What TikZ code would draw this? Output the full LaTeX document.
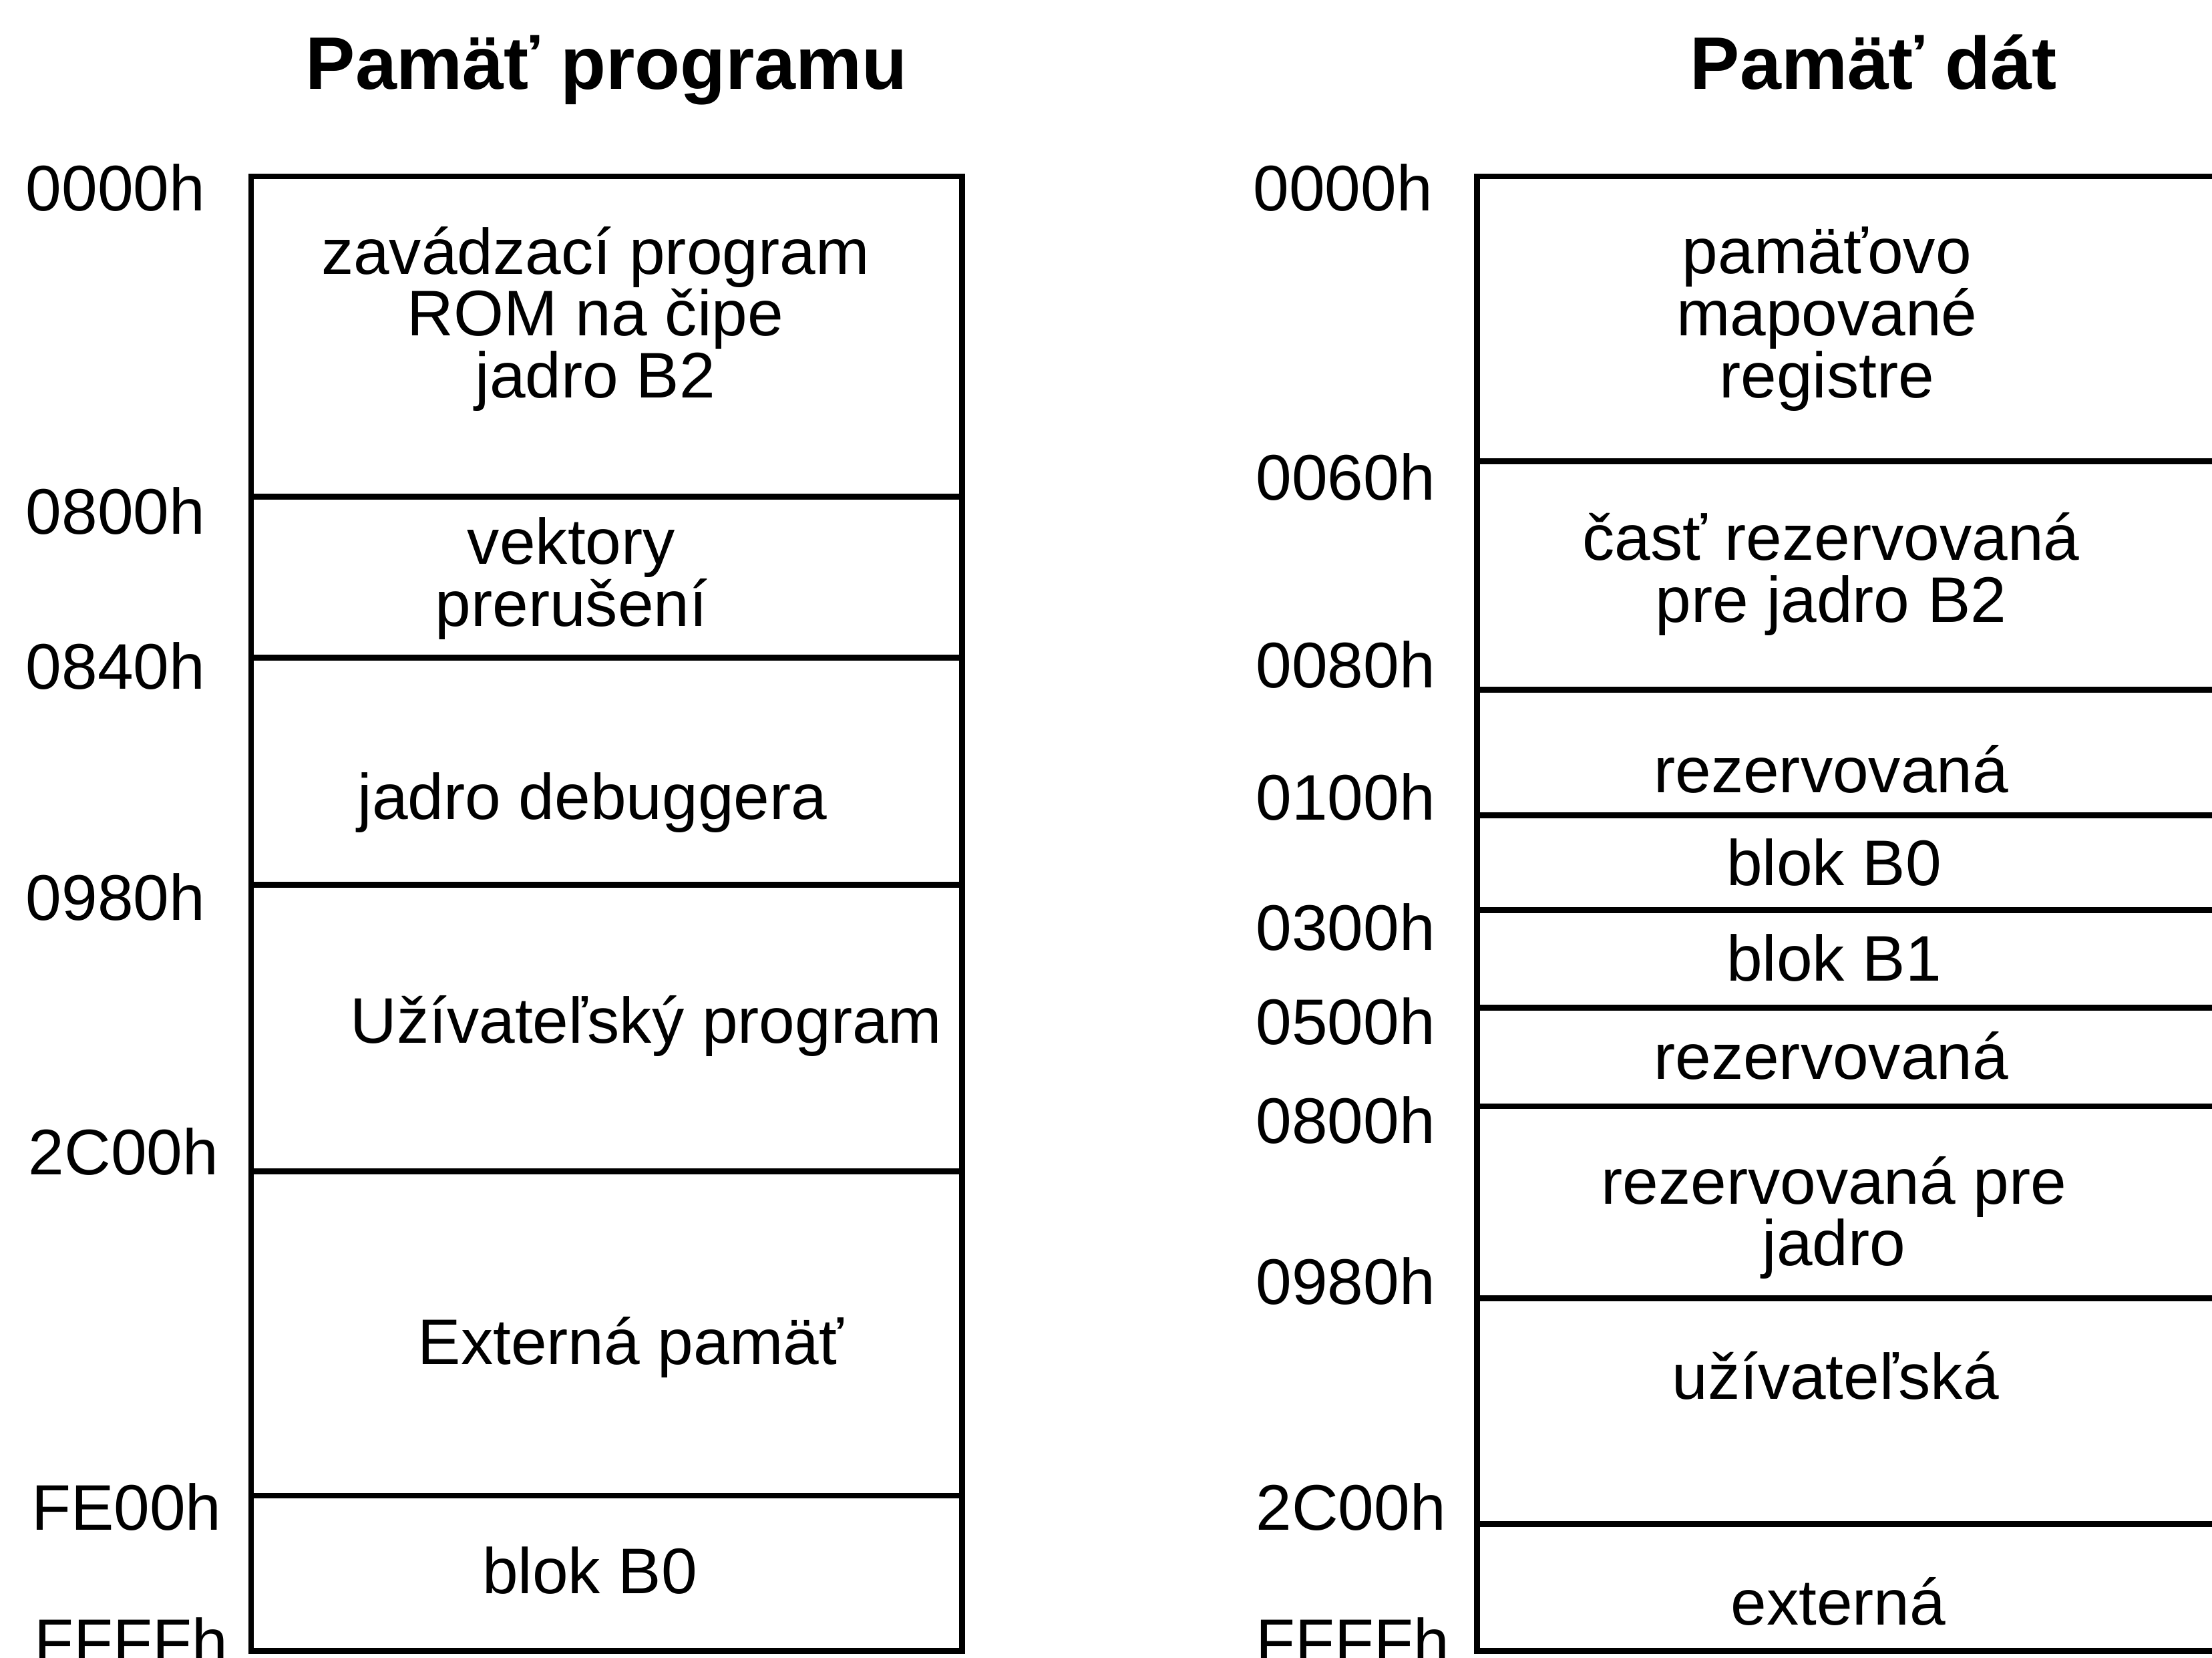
\documentclass[tikz,border=0pt]{standalone}
\usepackage{fontspec}
\setmainfont{Liberation Sans}

\tikzset{
  addr/.style={anchor=west, inner sep=0pt, font=\fontsize{26}{25}\selectfont},
  cell/.style={align=center, inner sep=0pt, font=\fontsize{26}{25}\selectfont},
  head/.style={anchor=base, inner sep=0pt, font=\fontsize{30}{30}\selectfont\bfseries},
  bord/.style={line width=2.4pt}
}

\begin{document}
\begin{tikzpicture}[x=0.02cm, y=-0.02cm]
			\clip (0,0) rectangle (1568,1175);
			
			% program memory
			\node[head] (ptitle) at (430,63) {Pamäť programu};
			
			\draw[bord] (178,125) rectangle (682,1170);
			\draw[bord] (178,352) -- (682,352);
			\draw[bord] (178,466) -- (682,466);
			\draw[bord] (178,627) -- (682,627);
			\draw[bord] (178,830) -- (682,830);
			\draw[bord] (178,1060) -- (682,1060);
			
			\node[addr] (p0) at (18,133) {0000h};
			\node[addr] (p1) at (18,362) {0800h};
			\node[addr] (p2) at (18,472) {0840h};
			\node[addr] (p3) at (18,636) {0980h};
			\node[addr] (p4) at (20,816) {2C00h};
			\node[addr] (p5) at (22,1068) {FE00h};
			\node[addr] (p6) at (24,1163) {FFFFh};
			
			\node[cell] (boot) at (422,226) {zavádzací program\\ROM na čipe\\jadro B2};
			\node[cell] (vect) at (405,410) {vektory\\prerušení};
			\node[cell] (dbg) at (420,569) {jadro debuggera};
			\node[cell] (user) at (458,727) {Užívateľský program};
			\node[cell] (ext) at (447,955) {Externá pamäť};
			\node[cell] (pb0) at (418,1113) {blok B0};
			
			% data memory
			\node[head] (dtitle) at (1328,63) {Pamäť dát};
			
			\draw[bord] (1047,125) rectangle (1572,1170);
			\draw[bord] (1047,327) -- (1572,327);
			\draw[bord] (1047,489) -- (1572,489);
			\draw[bord] (1047,578) -- (1572,578);
			\draw[bord] (1047,645) -- (1572,645);
			\draw[bord] (1047,714) -- (1572,714);
			\draw[bord] (1047,784) -- (1572,784);
			\draw[bord] (1047,920) -- (1572,920);
			\draw[bord] (1047,1080) -- (1572,1080);
			
			\node[addr] (d0) at (888,133) {0000h};
			\node[addr] (d1) at (890,338) {0060h};
			\node[addr] (d2) at (890,471) {0080h};
			\node[addr] (d3) at (890,565) {0100h};
			\node[addr] (d4) at (890,657) {0300h};
			\node[addr] (d5) at (890,724) {0500h};
			\node[addr] (d6) at (890,794) {0800h};
			\node[addr] (d7) at (890,908) {0980h};
			\node[addr] (d8) at (890,1068) {2C00h};
			\node[addr] (d9) at (890,1163) {FFFFh};
			
			\node[cell] (regs) at (1295,226) {pamäťovo\\mapované\\registre};
			\node[cell] (res1) at (1298,407) {časť rezervovaná\\pre jadro B2};
			\node[cell] (res2) at (1298,545) {rezervovaná};
			\node[cell] (db0) at (1300,611) {blok B0};
			\node[cell] (db1) at (1300,679) {blok B1};
			\node[cell] (res3) at (1298,748) {rezervovaná};
			\node[cell] (res4) at (1300,863) {rezervovaná pre\\jadro};
			\node[cell] (duser) at (1301,975) {užívateľská};
			\node[cell] (dext) at (1303,1135) {externá};
\end{tikzpicture}
\end{document}
